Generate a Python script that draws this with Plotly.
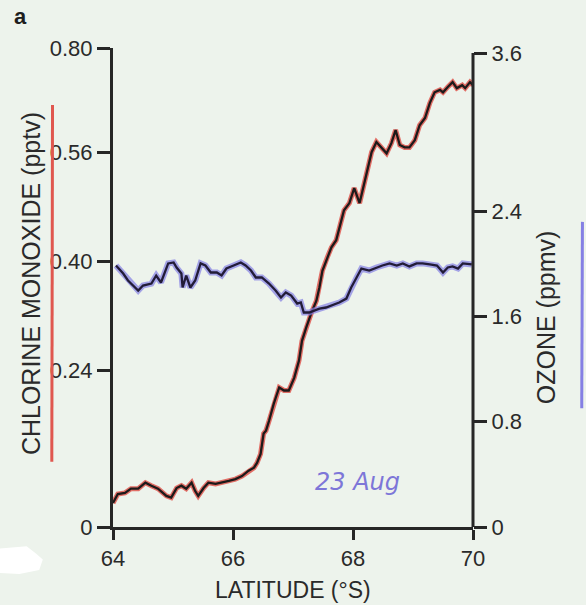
import plotly.graph_objects as go

# ---------------- data ----------------
clo_lat = [64.00, 64.08, 64.20, 64.30, 64.42, 64.54, 64.64, 64.75, 64.89, 64.97,
           65.06, 65.14, 65.22, 65.31, 65.37, 65.42, 65.51, 65.59, 65.71, 65.81,
           65.93, 66.04, 66.15, 66.26, 66.35, 66.40, 66.46, 66.51, 66.55, 66.60,
           66.68, 66.77, 66.85, 66.93, 67.02, 67.10, 67.15, 67.22, 67.30, 67.39,
           67.44, 67.49, 67.57, 67.64, 67.72, 67.80, 67.85, 67.94, 68.02, 68.11,
           68.16, 68.24, 68.31, 68.39, 68.47, 68.56, 68.64, 68.71, 68.78, 68.86,
           68.94, 69.03, 69.11, 69.20, 69.28, 69.36, 69.45, 69.50, 69.58, 69.66,
           69.73, 69.82, 69.87, 69.95, 70.00]
clo_val = [0.040, 0.055, 0.057, 0.064, 0.064, 0.074, 0.069, 0.064, 0.052, 0.049,
           0.065, 0.069, 0.064, 0.074, 0.060, 0.052, 0.065, 0.074, 0.072, 0.074,
           0.077, 0.080, 0.085, 0.094, 0.099, 0.107, 0.122, 0.156, 0.161, 0.177,
           0.206, 0.233, 0.228, 0.228, 0.249, 0.278, 0.311, 0.333, 0.356, 0.378,
           0.400, 0.428, 0.450, 0.467, 0.479, 0.507, 0.529, 0.541, 0.566, 0.541,
           0.562, 0.596, 0.626, 0.643, 0.634, 0.624, 0.641, 0.663, 0.638, 0.634,
           0.634, 0.646, 0.671, 0.683, 0.708, 0.726, 0.730, 0.726, 0.735, 0.743,
           0.733, 0.738, 0.733, 0.743, 0.738]

ozone_lat = [64.05, 64.17, 64.25, 64.42, 64.50, 64.64, 64.72, 64.80, 64.92, 65.01,
             65.06, 65.14, 65.16, 65.22, 65.29, 65.37, 65.46, 65.54, 65.63, 65.73,
             65.81, 65.89, 66.01, 66.13, 66.21, 66.30, 66.38, 66.48, 66.60, 66.71,
             66.80, 66.88, 66.97, 67.07, 67.13, 67.18, 67.27, 67.35, 67.44, 67.55,
             67.65, 67.77, 67.89, 67.97, 68.06, 68.14, 68.27, 68.39, 68.49, 68.61,
             68.73, 68.83, 68.94, 69.06, 69.16, 69.28, 69.40, 69.50, 69.58, 69.66,
             69.75, 69.83, 69.98]
ozone_val = [1.986, 1.925, 1.872, 1.796, 1.834, 1.849, 1.910, 1.857, 2.002, 2.009,
             1.971, 1.925, 1.819, 1.910, 1.819, 1.872, 2.002, 1.986, 1.933, 1.933,
             1.910, 1.963, 1.986, 2.009, 1.986, 1.948, 1.895, 1.895, 1.849, 1.796,
             1.743, 1.781, 1.758, 1.697, 1.705, 1.629, 1.629, 1.644, 1.659, 1.667,
             1.682, 1.705, 1.735, 1.819, 1.895, 1.963, 1.948, 1.971, 1.986, 2.002,
             1.986, 2.002, 1.979, 2.002, 2.002, 1.994, 1.986, 1.933, 1.971, 1.979,
             1.963, 2.002, 1.994]

x_ticks = [64, 66, 68, 70]
clo_tick_text = ["0", "0.24", "0.40", "0.56", "0.80"]
clo_tick_pos = [0, 0.262, 0.443, 0.625, 0.80]   # label positions on the printed (hand-edited) axis
ozone_ticks = [0, 0.8, 1.6, 2.4, 3.6]
ozone_tick_text = ["0", "0.8", "1.6", "2.4", "3.6"]

# ---------------- styles ----------------
BG = "#edf3ec"
INK = "#262626"
RED = "#e0574f"
BLUE = "#8580e4"
FONT = "Liberation Sans, Arial, sans-serif"

fig = go.Figure()
# hand-coloured highlight under each printed line
fig.add_trace(go.Scatter(x=clo_lat, y=clo_val, mode="lines", yaxis="y",
                         line=dict(color=RED, width=5), opacity=0.85,
                         showlegend=False, hoverinfo="skip"))
fig.add_trace(go.Scatter(x=ozone_lat, y=ozone_val, mode="lines", yaxis="y2",
                         line=dict(color=BLUE, width=6), opacity=0.7,
                         showlegend=False, hoverinfo="skip"))
fig.add_trace(go.Scatter(x=clo_lat, y=clo_val, mode="lines", yaxis="y",
                         line=dict(color="#1c1a1a", width=2.3),
                         name="Chlorine monoxide", showlegend=False))
fig.add_trace(go.Scatter(x=ozone_lat, y=ozone_val, mode="lines", yaxis="y2",
                         line=dict(color="#221c38", width=2.3),
                         name="Ozone", showlegend=False))

axis_font = dict(family=FONT, size=22, color="#2a2a2a")

fig.update_layout(
    width=586, height=605,
    margin=dict(l=113, r=113, t=48, b=78),
    paper_bgcolor=BG, plot_bgcolor=BG,
    showlegend=False,
    xaxis=dict(range=[64, 70], tickvals=x_ticks, ticks="outside", ticklen=10,
               tickwidth=2.5, tickcolor=INK, showline=True, linecolor=INK,
               linewidth=3, showgrid=False, zeroline=False, tickfont=axis_font),
    yaxis=dict(range=[0, 0.80], tickvals=clo_tick_pos, ticktext=clo_tick_text,
               ticks="outside", ticklen=13, tickwidth=2.5, tickcolor=INK,
               showline=True, linecolor=INK, linewidth=3, showgrid=False,
               zeroline=False, tickfont=axis_font),
    yaxis2=dict(range=[0, 3.6 * 479 / 474], overlaying="y", side="right",
                tickvals=ozone_ticks, ticktext=ozone_tick_text,
                ticks="outside", ticklen=13, tickwidth=2.5, tickcolor=INK,
                showline=False, showgrid=False, zeroline=False,
                tickfont=axis_font),
)

# right axis line (ends at the 3.6 tick)
fig.add_shape(type="line", xref="paper", yref="y2", x0=1, x1=1, y0=0, y1=3.6,
              line=dict(color=INK, width=3))
# hand-drawn coloured strokes beside the axis titles
fig.add_shape(type="line", xref="paper", yref="paper", x0=-0.170, x1=-0.168,
              y0=0.136, y1=0.881, line=dict(color=RED, width=3))
fig.add_shape(type="line", xref="paper", yref="paper", x0=1.302, x1=1.304,
              y0=0.248, y1=0.637, line=dict(color=BLUE, width=3))
# white paper patch at lower left
fig.add_shape(type="path", xref="paper", yref="paper",
              path="M -0.314 -0.045 L -0.240 -0.040 L -0.215 -0.055 "
                   "L -0.195 -0.068 L -0.205 -0.090 L -0.260 -0.098 "
                   "L -0.314 -0.096 Z",
              fillcolor="white", line=dict(width=0))

title_font = dict(family=FONT, size=25, color="#2a2a2a")
fig.add_annotation(text="CHLORINE MONOXIDE (pptv)", xref="paper", yref="paper",
                   x=-0.228, y=0.509, textangle=-90, showarrow=False,
                   xanchor="center", yanchor="middle", font=title_font)
fig.add_annotation(text="OZONE (ppmv)", xref="paper", yref="paper",
                   x=1.203, y=0.438, textangle=-90, showarrow=False,
                   xanchor="center", yanchor="middle", font=title_font)
fig.add_annotation(text="LATITUDE (°S)", xref="paper", yref="paper",
                   x=0.5, y=-0.1315, showarrow=False,
                   xanchor="center", yanchor="middle",
                   font=dict(family=FONT, size=23, color="#2a2a2a"))
fig.add_annotation(text="<b>a</b>", xref="paper", yref="paper",
                   x=-0.2556, y=1.065, showarrow=False,
                   xanchor="center", yanchor="middle",
                   font=dict(family=FONT, size=22, color="#1e1e1e"))
fig.add_annotation(text="<i>23 Aug</i>", xref="paper", yref="paper",
                   x=0.678, y=0.094, showarrow=False,
                   xanchor="center", yanchor="middle",
                   font=dict(family="DejaVu Sans, sans-serif", size=24, color="#7d76d8"))

fig.write_html("out.html")
